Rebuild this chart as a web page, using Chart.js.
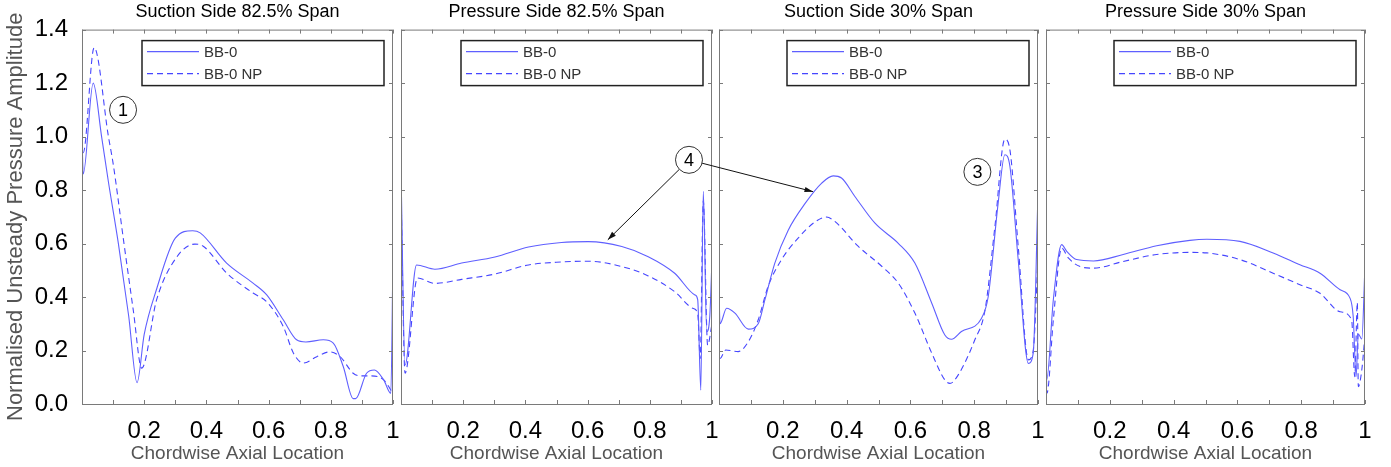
<!DOCTYPE html>
<html>
<head>
<meta charset="utf-8">
<script src="https://cdn.jsdelivr.net/npm/chart.js@4.4.1/dist/chart.umd.min.js"></script>
<style>
  html, body { margin: 0; padding: 0; background: #fff; }
  #wrap { position: relative; width: 1391px; height: 467px; }
  #wrap canvas { position: absolute; left: 0; top: 0; }
</style>
</head>
<body>
<div id="wrap">
  <canvas id="c1" width="1391" height="467"></canvas>
  <canvas id="c2" width="1391" height="467"></canvas>
  <canvas id="c3" width="1391" height="467"></canvas>
  <canvas id="c4" width="1391" height="467"></canvas>
  <canvas id="overlay" width="1391" height="467"></canvas>
</div>
<script>
// ---- data ----
const seriesNames = ["BB-0", "BB-0 NP"];
const panelTitles = ["Suction Side 82.5% Span", "Pressure Side 82.5% Span", "Suction Side 30% Span", "Pressure Side 30% Span"];
const xTickLabels = ["", "", "0.2", "", "0.4", "", "0.6", "", "0.8", "", "1"];

// Suction side 82.5% span
const ss82X  = [0, 0.004, 0.036, 0.063, 0.085, 0.117, 0.150, 0.177, 0.200, 0.240, 0.300, 0.356, 0.380, 0.465, 0.550, 0.594, 0.647, 0.690, 0.720, 0.776, 0.808, 0.840, 0.872, 0.880, 0.915, 0.940, 0.970, 0.993, 1.0];
const ss82Y  = [1.00, 0.86, 1.20, 1.00, 0.83, 0.60, 0.33, 0.08, 0.26, 0.43, 0.62, 0.648, 0.64, 0.527, 0.452, 0.408, 0.315, 0.24, 0.232, 0.24, 0.228, 0.14, 0.02, 0.02, 0.115, 0.127, 0.09, 0.04, 0.56];
const ss82NX = [0, 0.004, 0.039, 0.085, 0.100, 0.135, 0.165, 0.192, 0.240, 0.305, 0.363, 0.390, 0.465, 0.550, 0.594, 0.647, 0.680, 0.712, 0.755, 0.797, 0.830, 0.872, 0.894, 0.930, 0.970, 1.0];
const ss82NY = [0.98, 0.94, 1.333, 1.00, 0.90, 0.60, 0.35, 0.134, 0.39, 0.55, 0.598, 0.59, 0.49, 0.415, 0.382, 0.29, 0.19, 0.153, 0.177, 0.195, 0.177, 0.115, 0.105, 0.105, 0.09, 0.04];

// Pressure side 82.5% span
const ps82X  = [0, 0.013, 0.050, 0.109, 0.195, 0.302, 0.410, 0.516, 0.602, 0.710, 0.795, 0.880, 0.945, 0.954, 0.964, 0.972, 0.983, 0.993, 1.0];
const ps82Y  = [0.876, 0.146, 0.52, 0.504, 0.527, 0.55, 0.587, 0.604, 0.607, 0.589, 0.551, 0.489, 0.408, 0.39, 0.052, 0.795, 0.27, 0.33, 0.54];
const ps82NX = [0, 0.013, 0.053, 0.109, 0.195, 0.302, 0.410, 0.516, 0.602, 0.710, 0.795, 0.880, 0.940, 0.954, 0.962, 0.972, 0.986, 1.0];
const ps82NY = [0.80, 0.115, 0.471, 0.451, 0.466, 0.486, 0.52, 0.531, 0.534, 0.514, 0.479, 0.42, 0.357, 0.338, 0.17, 0.76, 0.22, 0.30];

// Suction side 30% span
const ss30X  = [0, 0.003, 0.024, 0.050, 0.092, 0.123, 0.144, 0.175, 0.217, 0.270, 0.322, 0.358, 0.384, 0.426, 0.489, 0.562, 0.614, 0.667, 0.708, 0.729, 0.760, 0.823, 0.844, 0.875, 0.896, 0.912, 0.938, 0.970, 0.985, 1.0];
const ss30Y  = [0.45, 0.30, 0.358, 0.34, 0.28, 0.30, 0.39, 0.527, 0.65, 0.75, 0.826, 0.853, 0.845, 0.776, 0.676, 0.601, 0.527, 0.377, 0.258, 0.242, 0.271, 0.321, 0.402, 0.75, 0.932, 0.888, 0.539, 0.152, 0.19, 0.79];
const ss30NX = [0, 0.003, 0.021, 0.060, 0.092, 0.123, 0.154, 0.196, 0.248, 0.300, 0.337, 0.363, 0.436, 0.510, 0.562, 0.614, 0.667, 0.708, 0.724, 0.750, 0.802, 0.834, 0.865, 0.896, 0.912, 0.938, 0.970, 0.985, 1.0];
const ss30NY = [0.21, 0.17, 0.202, 0.196, 0.233, 0.315, 0.44, 0.54, 0.62, 0.68, 0.699, 0.683, 0.59, 0.515, 0.452, 0.34, 0.19, 0.09, 0.077, 0.109, 0.24, 0.352, 0.664, 0.99, 0.95, 0.589, 0.165, 0.20, 0.55];

// Pressure side 30% span
const ps30X  = [0, 0.002, 0.023, 0.049, 0.065, 0.096, 0.149, 0.242, 0.347, 0.451, 0.504, 0.608, 0.712, 0.796, 0.859, 0.922, 0.953, 0.963, 0.972, 0.979, 0.990, 1.0];
const ps30Y  = [0.435, 0.089, 0.39, 0.596, 0.571, 0.54, 0.535, 0.559, 0.592, 0.612, 0.616, 0.608, 0.565, 0.521, 0.489, 0.427, 0.396, 0.327, 0.102, 0.262, 0.243, 0.52];
const ps30NX = [0, 0.003, 0.023, 0.049, 0.070, 0.107, 0.149, 0.242, 0.347, 0.451, 0.504, 0.608, 0.712, 0.796, 0.859, 0.922, 0.958, 0.968, 0.976, 0.979, 0.990, 1.0];
const ps30NY = [0.20, 0.04, 0.315, 0.583, 0.546, 0.514, 0.508, 0.533, 0.559, 0.567, 0.565, 0.54, 0.489, 0.446, 0.414, 0.345, 0.315, 0.102, 0.38, 0.065, 0.128, 0.26];

// ---- layout of the four plot boxes ----
const boxes = [
  { left: 82,   right: 393 },
  { left: 401,  right: 712 },
  { left: 719,  right: 1038 },
  { left: 1046, right: 1365 }
];
const PLOT_BOTTOM = 404;
const SOLID = "rgb(95,95,255)";
const DASHED = "rgb(70,70,255)";
const FONT = "'Liberation Sans', Arial, sans-serif";

const pts = (xs, ys) => xs.map((x, i) => ({ x: x, y: ys[i] }));

// frame, inward ticks and boxed legend
const framePlugin = {
  id: "frame",
  afterDatasetsDraw(chart) {
    const { ctx, chartArea: a, scales } = chart;
    ctx.save();
    ctx.strokeStyle = "#7a7a7a";
    ctx.lineWidth = 1;
    ctx.strokeRect(a.left + 0.5, a.top + 0.5, a.right - a.left - 1, a.bottom - a.top);
    ctx.beginPath();
    scales.x.ticks.forEach(t => {
      const px = Math.round(scales.x.getPixelForValue(t.value)) + 0.5;
      ctx.moveTo(px, a.bottom); ctx.lineTo(px, a.bottom - 4);
      ctx.moveTo(px, a.top); ctx.lineTo(px, a.top + 4);
    });
    scales.y.ticks.forEach(t => {
      const py = Math.round(scales.y.getPixelForValue(t.value)) + 0.5;
      ctx.moveTo(a.left, py); ctx.lineTo(a.left + 4, py);
      ctx.moveTo(a.right, py); ctx.lineTo(a.right - 4, py);
    });
    ctx.stroke();

    // legend box
    const w = 242, h = 45;
    const lx = a.right - 9 - w, ly = a.top + 11;
    ctx.fillStyle = "#fff";
    ctx.fillRect(lx, ly, w, h);
    ctx.strokeStyle = "#222";
    ctx.lineWidth = 1.5;
    ctx.strokeRect(lx, ly, w, h);
    chart.data.datasets.forEach((ds, i) => {
      const yy = ly + 11 + i * 22;
      ctx.beginPath();
      ctx.strokeStyle = ds.borderColor;
      ctx.lineWidth = 1.3;
      ctx.setLineDash(ds.borderDash || []);
      ctx.moveTo(lx + 5, yy); ctx.lineTo(lx + 57, yy);
      ctx.stroke();
      ctx.setLineDash([]);
      ctx.fillStyle = "#333";
      ctx.font = "15px " + FONT;
      ctx.textBaseline = "middle";
      ctx.fillText(ds.label, lx + 62, yy + 1);
    });
    ctx.restore();
  }
};

function makePanel(id, idx, solid, dashed) {
  const b = boxes[idx];
  const first = idx === 0;
  return new Chart(document.getElementById(id), {
    type: "line",
    data: {
      datasets: [
        { label: seriesNames[0], data: solid, borderColor: SOLID, borderWidth: 1.1,
          pointRadius: 0, cubicInterpolationMode: "monotone", fill: false },
        { label: seriesNames[1], data: dashed, borderColor: DASHED, borderWidth: 1.1,
          borderDash: [6, 4], pointRadius: 0, cubicInterpolationMode: "monotone", fill: false }
      ]
    },
    options: {
      responsive: false,
      animation: false,
      events: [],
      layout: { padding: { left: first ? 0 : b.left, right: 1391 - b.right, top: 0, bottom: 0 } },
      plugins: {
        legend: { display: false },
        tooltip: { enabled: false },
        title: {
          display: true, text: panelTitles[idx], color: "#000", fullSize: false,
          font: { family: FONT, size: 18, weight: "normal" },
          padding: { top: 1, bottom: 7 }
        }
      },
      scales: {
        x: {
          type: "linear", min: 0, max: 1,
          ticks: {
            stepSize: 0.1, autoSkip: false, maxRotation: 0, padding: 13, color: "#000",
            font: { family: FONT, size: 24 },
            callback: (v, i) => xTickLabels[i]
          },
          grid: { display: false, drawTicks: false },
          border: { display: false },
          title: { display: true, text: "Chordwise Axial Location", color: "#555",
                   font: { family: FONT, size: 19 }, padding: { top: 0, bottom: 2 } },
          afterFit: s => { s.height = 467 - PLOT_BOTTOM; s.paddingLeft = 0; s.paddingRight = 0; }
        },
        y: {
          min: 0, max: 1.4,
          ticks: {
            display: first, stepSize: 0.2, padding: 14, color: "#000",
            font: { family: FONT, size: 24 },
            callback: v => v.toFixed(1)
          },
          grid: { display: false, drawTicks: false },
          border: { display: false },
          title: { display: first, text: "Normalised Unsteady Pressure Amplitude", color: "#555",
                   font: { family: FONT, size: 22 }, padding: { top: 3, bottom: 0 } },
          afterFit: s => { s.width = first ? b.left : 0; s.paddingTop = 0; s.paddingBottom = 0; }
        }
      }
    },
    plugins: [framePlugin]
  });
}

const charts = [
  makePanel("c1", 0, pts(ss82X, ss82Y), pts(ss82NX, ss82NY)),
  makePanel("c2", 1, pts(ps82X, ps82Y), pts(ps82NX, ps82NY)),
  makePanel("c3", 2, pts(ss30X, ss30Y), pts(ss30NX, ss30NY)),
  makePanel("c4", 3, pts(ps30X, ps30Y), pts(ps30NX, ps30NY))
];

// ---- annotations (circled numbers and arrows), placed in data coordinates ----
const marks = [
  { chart: 0, x: 0.132, y: 1.10, text: "1" },
  { chart: 1, x: 0.926, y: 0.913, text: "4" },
  { chart: 2, x: 0.810, y: 0.868, text: "3" }
];
const arrows = [
  { from: 1, chart: 1, x: 0.665, y: 0.614 },
  { from: 1, chart: 2, x: 0.295, y: 0.794 }
];

function toPx(ci, x, y) {
  const c = charts[ci];
  return [c.scales.x.getPixelForValue(x), c.scales.y.getPixelForValue(y)];
}

const octx = document.getElementById("overlay").getContext("2d");
const R = 13.5;
arrows.forEach(a => {
  const m = marks[a.from];
  const [cx, cy] = toPx(m.chart, m.x, m.y);
  const [tx, ty] = toPx(a.chart, a.x, a.y);
  const ang = Math.atan2(ty - cy, tx - cx);
  const sx = cx + R * Math.cos(ang), sy = cy + R * Math.sin(ang);
  octx.strokeStyle = "#111";
  octx.fillStyle = "#111";
  octx.lineWidth = 1;
  octx.beginPath();
  octx.moveTo(sx, sy); octx.lineTo(tx, ty);
  octx.stroke();
  octx.beginPath();
  octx.moveTo(tx, ty);
  octx.lineTo(tx - 9 * Math.cos(ang - 0.3), ty - 9 * Math.sin(ang - 0.3));
  octx.lineTo(tx - 9 * Math.cos(ang + 0.3), ty - 9 * Math.sin(ang + 0.3));
  octx.closePath();
  octx.fill();
});
marks.forEach(m => {
  const [cx, cy] = toPx(m.chart, m.x, m.y);
  octx.beginPath();
  octx.arc(cx, cy, R, 0, Math.PI * 2);
  octx.fillStyle = "#fff";
  octx.fill();
  octx.strokeStyle = "#333";
  octx.lineWidth = 1;
  octx.stroke();
  octx.fillStyle = "#000";
  octx.font = "18px " + FONT;
  octx.textAlign = "center";
  octx.textBaseline = "middle";
  octx.fillText(m.text, cx, cy + 1);
});
</script>
</body>
</html>
